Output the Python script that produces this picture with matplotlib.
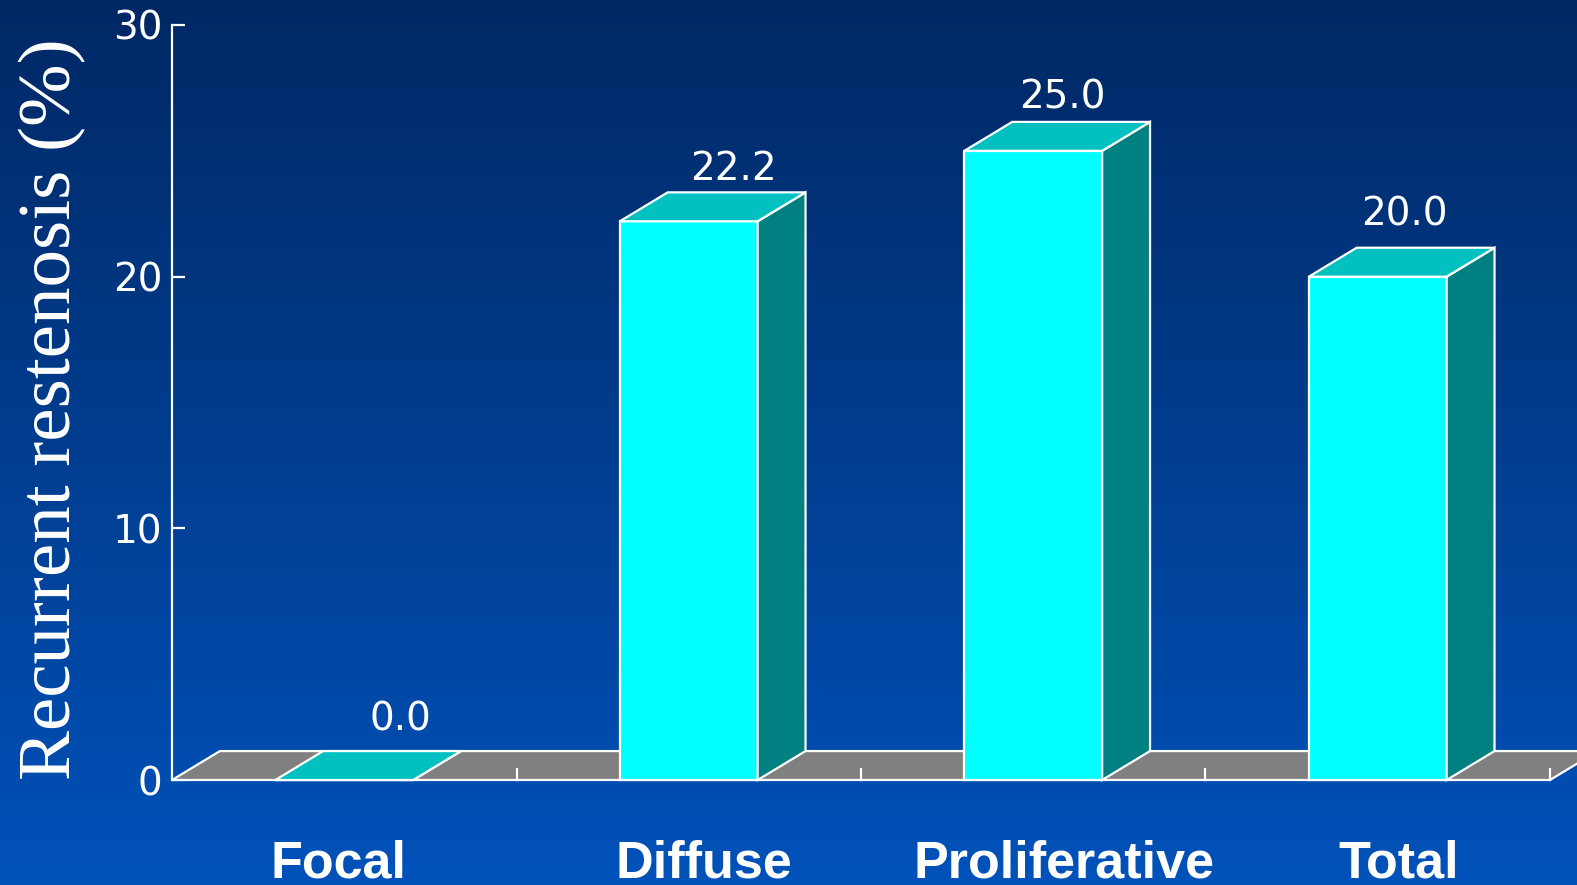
import matplotlib.pyplot as plt
import numpy as np
from matplotlib.patches import Polygon

# restenosis rate by pattern
categories = ['Focal', 'Diffuse', 'Proliferative', 'Total']
restenosis = [0.0, 22.2, 25.0, 20.0]
yticks = [0, 10, 20, 30]

# hand placement of the text (pixels)
value_dx = [56, 45, 29, 27]
value_gap = [21, 12, 13, 22]
name_dx = [-6, 15, 31, 21]

FRONT = '#00FFFF'
SIDE = '#008080'
TOP = '#00C0C0'
FLOOR = '#808080'
EDGE = 'white'
LW = 1.6
NUM_FONT = 'DejaVu Sans'

# fake 3d depth, in data units
DX = 0.139
DY = 1.15
BAR_W = 0.4

W, H = 1577, 885
fig = plt.figure(figsize=(W / 100, H / 100), dpi=100)

# blue gradient backdrop
bg = fig.add_axes([0, 0, 1, 1], zorder=-1)
t = np.linspace(0, 1, 256)[:, None, None]
top_col = np.array([0, 40, 100]) / 255
bot_col = np.array([0, 82, 186]) / 255
bg.imshow(top_col + (bot_col - top_col) * t, aspect='auto',
          extent=[0, 1, 0, 1], origin='upper')
bg.axis('off')

ax = fig.add_axes([172 / W, 105 / H, 1378 / W, 755 / H])
ax.set_xlim(0, len(categories))
ax.set_ylim(0, 30)
ax.patch.set_visible(False)

n = len(categories)

# floor
floor = Polygon([(0, 0), (n, 0), (n + DX, DY), (DX, DY)], closed=True,
                fc=FLOOR, ec=EDGE, lw=LW, clip_on=False, zorder=1)
ax.add_patch(floor)
for i in range(1, n + 1):
    ax.plot([i, i], [0, 0.44], color=EDGE, lw=LW, clip_on=False, zorder=1.5)

# bars
for i, v in enumerate(restenosis):
    x0 = i + 0.5 - BAR_W / 2
    x1 = x0 + BAR_W
    faces = [
        ([(x0, 0), (x1, 0), (x1, v), (x0, v)], FRONT),
        ([(x1, 0), (x1 + DX, DY), (x1 + DX, v + DY), (x1, v)], SIDE),
        ([(x0, v), (x1, v), (x1 + DX, v + DY), (x0 + DX, v + DY)], TOP),
    ]
    for pts, c in faces:
        ax.add_patch(Polygon(pts, closed=True, fc=c, ec=EDGE, lw=LW,
                             joinstyle='miter', clip_on=False, zorder=2))
    ax.annotate(f'{v:.1f}', xy=(i + 0.5, v + DY),
                xytext=(value_dx[i] * 0.72, value_gap[i] * 0.72),
                textcoords='offset points', ha='center', va='baseline',
                color='white', fontsize=28, family=NUM_FONT)
    ax.annotate(categories[i], xy=(i + 0.5, 0),
                xytext=(name_dx[i] * 0.72, -98 * 0.72),
                textcoords='offset points', ha='center', va='baseline',
                color='white', fontsize=37.5, fontweight='bold',
                family='Liberation Sans', annotation_clip=False)

for s in ['top', 'right', 'bottom']:
    ax.spines[s].set_visible(False)
ax.spines['left'].set_color(EDGE)
ax.spines['left'].set_linewidth(LW)
ax.set_xticks([])
ax.set_yticks(yticks)
ax.tick_params(axis='y', direction='in', length=9.5, width=LW,
               colors='white', labelsize=28, pad=7)
for lab in ax.get_yticklabels():
    lab.set_family(NUM_FONT)

fig.text(70 / W, 1 - 409.5 / H, 'Recurrent restenosis (%)', rotation=90,
         rotation_mode='anchor', ha='center', va='baseline',
         color='white', fontsize=54, family='Liberation Serif')

fig.savefig('out.png', dpi=100)
